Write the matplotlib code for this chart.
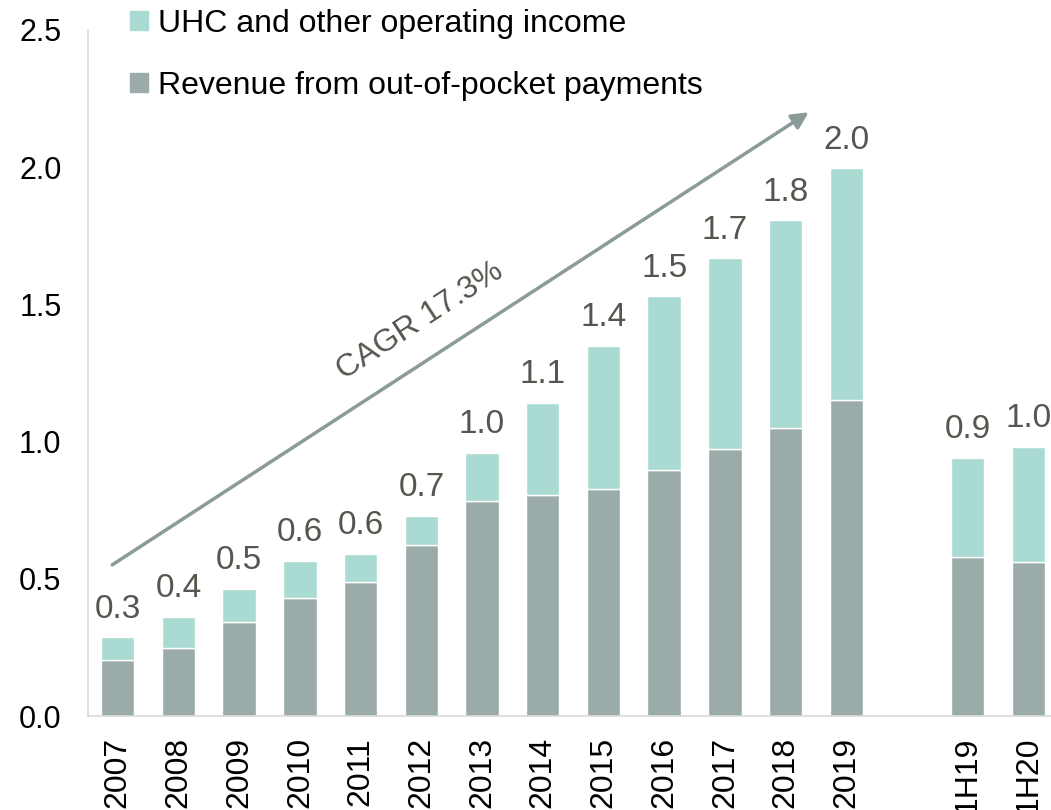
import numpy as np
import matplotlib.pyplot as plt
from matplotlib.patches import Patch

plt.rcParams['font.family'] = ['Liberation Sans', 'DejaVu Sans']

# Data
labels = ['2007', '2008', '2009', '2010', '2011', '2012', '2013', '2014',
          '2015', '2016', '2017', '2018', '2019', '1H19', '1H20']
out_of_pocket = [0.204, 0.248, 0.343, 0.431, 0.489, 0.624, 0.785, 0.807,
                 0.828, 0.898, 0.974, 1.051, 1.150, 0.580, 0.562]
uhc_other = [0.084, 0.113, 0.120, 0.135, 0.102, 0.106, 0.175, 0.335,
             0.522, 0.631, 0.694, 0.756, 0.846, 0.362, 0.420]
totals_txt = ['0.3', '0.4', '0.5', '0.6', '0.6', '0.7', '1.0', '1.1',
              '1.4', '1.5', '1.7', '1.8', '2.0', '0.9', '1.0']

c_gray = '#9aabaa'
c_teal = '#aadbd3'
c_text = '#55574f'

# one empty slot between the yearly bars and the half-year bars
pos = np.array(list(range(13)) + [14, 15])
oop = np.array(out_of_pocket)
uhc = np.array(uhc_other)
tot = oop + uhc

fig = plt.figure(figsize=(10.51, 8.10), dpi=100)
ax = fig.add_axes([0.0837, 0.116, 0.918, 0.847])

w = 0.55
ax.bar(pos, oop, w, color=c_gray, edgecolor='white', linewidth=1)
ax.bar(pos, uhc, w, bottom=oop, color=c_teal, edgecolor='white', linewidth=1)

for x, t, s in zip(pos, tot, totals_txt):
    ax.annotate(s, (x, t), xytext=(0, 9), textcoords='offset points',
                ha='center', va='bottom', fontsize=24, color=c_text)

# CAGR arrow
ax.annotate('', xy=(11.38, 2.20), xytext=(-0.09, 0.551),
            arrowprops=dict(arrowstyle='-|>', color='#8a9b99', lw=2.5,
                            mutation_scale=25, shrinkA=0, shrinkB=0))
ax.text(4.98, 1.44, 'CAGR 17.3%', rotation=33, ha='center', va='center',
        fontsize=23, color=c_text, rotation_mode='anchor')

ax.set_xlim(-0.49, 15.4)
ax.set_ylim(0, 2.5)
ax.set_yticks([0, 0.5, 1.0, 1.5, 2.0, 2.5])
ax.set_yticklabels(['0.0', '0.5', '1.0', '1.5', '2.0', '2.5'])
ax.set_xticks(pos)
ax.set_xticklabels(labels, rotation=90)
ax.tick_params(axis='both', length=0, labelsize=22, colors='black')
ax.tick_params(axis='x', labelsize=23, pad=15)
ax.tick_params(axis='y', pad=19)

for side in ['top', 'right']:
    ax.spines[side].set_visible(False)
for side in ['left', 'bottom']:
    ax.spines[side].set_color('#d9d9d9')
    ax.spines[side].set_linewidth(1.2)

handles = [Patch(color=c_teal, label='UHC and other operating income'),
           Patch(color=c_gray, label='Revenue from out-of-pocket payments')]
fig.legend(handles=handles, loc='upper left', bbox_to_anchor=(0.112, 1.005),
           frameon=False, fontsize=23, handlelength=0.55, handleheight=0.55,
           handletextpad=0.3, labelspacing=1.0, borderaxespad=0)

fig.savefig('out.png', dpi=100)
